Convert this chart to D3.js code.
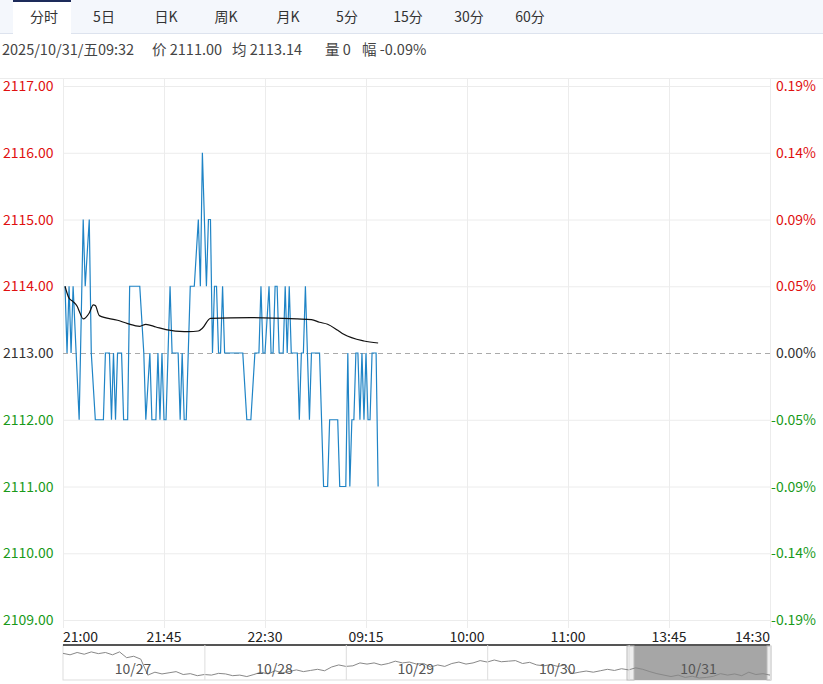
<!DOCTYPE html>
<html><head><meta charset="utf-8">
<script src="https://cdn.jsdelivr.net/npm/d3@7"></script>
<style>
body{margin:0;background:#fff;font-family:"Microsoft YaHei","Noto Sans CJK SC",Arial,sans-serif;}
</style></head>
<body><div id="chart"></div>
<script>
const tabs = ["分时", "5日", "日K", "周K", "月K", "5分", "15分", "30分", "60分"];
const timeLabels = ["21:00", "21:45", "22:30", "09:15", "10:00", "11:00", "13:45", "14:30"];
const priceTicks = [2117, 2116, 2115, 2114, 2113, 2112, 2111, 2110, 2109];
const pctLabels = ["0.19%", "0.14%", "0.09%", "0.05%", "0.00%", "-0.05%", "-0.09%", "-0.14%", "-0.19%"];
const preClose = 2113;
const infoParts = ["2025/10/31/五09:32", "价 2111.00", "均 2113.14", "量 0", "幅 -0.09%"];
// minute index / price
const priceIdx = [1,2,3,4,5,8,10,11,13,14,16,20,21,23,24,25,26,27,29,30,32,33,38,40,41,43,44,46,47,48,49,50,51,53,54,57,58,59,60,61,63,65,67,68,69,71,72,73,74,75,76,77,78,79,80,89,91,93,95,97,98,99,100,102,103,104,105,106,107,109,110,111,112,113,116,117,118,119,120,121,122,123,127,129,131,132,136,137,140,141,142,143,144,145,146,147,148,149,150,151,152,153,155,156];
const priceVal = [2114,2113,2114,2113,2114,2112,2115,2114,2115,2113,2112,2112,2113,2113,2112,2113,2112,2113,2113,2112,2112,2114,2114,2113,2112,2113,2112,2112,2113,2112,2113,2112,2112,2114,2113,2113,2112,2113,2112,2112,2114,2114,2115,2114,2116,2114,2115,2115,2113,2114,2114,2113,2113,2114,2113,2113,2112,2112,2113,2113,2114,2113,2113,2114,2113,2113,2114,2114,2113,2113,2114,2113,2114,2113,2113,2112,2113,2113,2114,2113,2112,2113,2113,2111,2111,2112,2112,2111,2111,2113,2111,2112,2112,2113,2113,2112,2113,2112,2113,2112,2112,2113,2113,2111];
const avgIdx = [1,3,5,7,8,10,13,15,16,18,27,32,38,41,46,51,60,62,67,69,73,93,116,123,127,131,136,139,149,156];
const avgVal = [2114,2113.82,2113.77,2113.7,2113.63,2113.51,2113.6,2113.72,2113.71,2113.56,2113.49,2113.44,2113.4,2113.43,2113.39,2113.35,2113.32,2113.32,2113.33,2113.37,2113.52,2113.53,2113.51,2113.5,2113.46,2113.43,2113.34,2113.28,2113.18,2113.15];
// overview navigator: relative level per step (0 top, 1 bottom)
const navVal = [0.15,0.2,0.12,0.18,0.1,0.16,0.12,0.2,0.1,0.3,0.25,0.35,0.9,0.8,0.86,0.82,0.78,0.88,0.85,0.92,0.88,0.9,0.84,0.86,0.92,0.9,0.95,0.88,0.8,0.86,0.75,0.82,0.78,0.72,0.78,0.74,0.7,0.75,0.62,0.55,0.6,0.58,0.48,0.52,0.48,0.55,0.5,0.42,0.48,0.45,0.52,0.5,0.62,0.55,0.6,0.5,0.45,0.52,0.48,0.4,0.45,0.38,0.44,0.42,0.4,0.5,0.46,0.55,0.58,0.54,0.6,0.55,0.85,0.8,0.76,0.8,0.75,0.7,0.74,0.68,0.72,0.65,0.7,0.78,0.85,0.9,0.95,0.9,0.98,0.94,1,0.98,0.94,0.85,0.9,0.86,0.92,0.8,0.88,0.85,0.9];
const navDays = ["10/27", "10/28", "10/29", "10/30", "10/31"];

const W = 823, H = 684;
const L = 63, R = 770, T = 86, B = 620;
const svg = d3.select("#chart").append("svg").attr("width", W).attr("height", H);

// tab bar
svg.append("rect").attr("width", W).attr("height", 33).attr("fill", "#f4f7fc");
svg.append("line").attr("x1", 0).attr("x2", W).attr("y1", 33.5).attr("y2", 33.5).attr("stroke", "#dde3ee");
svg.append("rect").attr("x", 13).attr("y", 0).attr("width", 58).attr("height", 34).attr("fill", "#fff");
svg.append("rect").attr("x", 13).attr("y", 0).attr("width", 58).attr("height", 2).attr("fill", "#1d2b5a");
const tabX = [44, 104, 166, 226, 288, 347, 408, 469, 530];
svg.selectAll(".tab").data(tabs).enter().append("text")
  .attr("x", (d, i) => tabX[i]).attr("y", 22).attr("text-anchor", "middle")
  .attr("font-size", 14).attr("fill", "#333").text(d => d);

const infoX = [2, 152, 232, 325, 362];
svg.selectAll(".info").data(infoParts).enter().append("text")
  .attr("x", (d, i) => infoX[i]).attr("y", 55).attr("font-size", 14.5).attr("fill", "#444")
  .text(d => d);

const x = d3.scaleLinear().domain([0, 350]).range([L, R]);
const y = d3.scaleLinear().domain([2109, 2117]).range([B, T]);
const col = v => v > preClose ? "#e01010" : v < preClose ? "#1a9a1a" : "#333";

// grid
svg.selectAll(".vg").data(timeLabels).enter().append("line")
  .attr("x1", (d, i) => x(i * 50) + 0.5).attr("x2", (d, i) => x(i * 50) + 0.5)
  .attr("y1", 78).attr("y2", B + 8).attr("stroke", "#ececec");
svg.selectAll(".hg").data(priceTicks).enter().append("line")
  .attr("x1", L).attr("x2", R).attr("y1", d => y(d) + 0.5).attr("y2", d => y(d) + 0.5)
  .attr("stroke", d => d === preClose ? "#aaa" : "#ececec")
  .attr("stroke-dasharray", d => d === preClose ? "5,4" : null);
svg.append("line").attr("x1", 0).attr("x2", W).attr("y1", 78.5).attr("y2", 78.5).attr("stroke", "#ececec");

svg.selectAll(".yl").data(priceTicks).enter().append("text")
  .attr("x", 3).attr("y", d => y(d) + 5).attr("font-size", 14).attr("fill", col)
  .text(d => d.toFixed(2));
svg.selectAll(".yr").data(pctLabels).enter().append("text")
  .attr("x", 816).attr("y", (d, i) => y(priceTicks[i]) + 5).attr("text-anchor", "end")
  .attr("font-size", 14).attr("fill", (d, i) => col(priceTicks[i])).text(d => d);

// lines
const line = d3.line().x(d => x(d[0])).y(d => y(d[1]));
svg.append("path").datum(priceIdx.map((d, i) => [d, priceVal[i]]))
  .attr("d", line).attr("fill", "none").attr("stroke", "#1f84c6").attr("stroke-width", 1.2);
svg.append("path").datum(avgIdx.map((d, i) => [d, avgVal[i]]))
  .attr("d", d3.line().x(d => x(d[0])).y(d => y(d[1])).curve(d3.curveMonotoneX))
  .attr("fill", "none").attr("stroke", "#111").attr("stroke-width", 1.2);

// time labels
svg.selectAll(".tl").data(timeLabels).enter().append("text")
  .attr("x", (d, i) => x(i * 50)).attr("y", 642)
  .attr("text-anchor", (d, i) => i === 0 ? "start" : i === timeLabels.length - 1 ? "end" : "middle")
  .attr("font-size", 14).attr("fill", "#222").text(d => d);

// navigator
const nT = 645, nB = 680;
svg.append("rect").attr("x", L).attr("y", nT).attr("width", R - L).attr("height", nB - nT)
  .attr("fill", "#fff").attr("stroke", "#ddd");
svg.append("line").attr("x1", L).attr("x2", R).attr("y1", nT).attr("y2", nT).attr("stroke", "#555").attr("stroke-width", 2);
const nx = d3.scaleLinear().domain([0, navVal.length - 1]).range([L, R]);
const ny = d3.scaleLinear().domain([0, 1]).range([nT + 4, nB - 2]);
svg.append("rect").attr("x", 634).attr("y", nT + 1).attr("width", R - 634).attr("height", nB - nT - 1).attr("fill", "#a6a6a6");
svg.append("rect").attr("x", 627).attr("y", nT + 1).attr("width", 7).attr("height", nB - nT - 1).attr("fill", "#eee").attr("stroke", "#bbb");
svg.append("rect").attr("x", R - 3).attr("y", nT + 1).attr("width", 4).attr("height", nB - nT - 1).attr("fill", "#eee").attr("stroke", "#bbb");
svg.append("path").datum(navVal).attr("d", d3.line().x((d, i) => nx(i)).y(d => ny(d)))
  .attr("fill", "none").attr("stroke", "#888").attr("stroke-width", 1);
const dayX = d3.scaleLinear().domain([0, 5]).range([L, R]);
svg.selectAll(".nd").data(navDays).enter().append("line")
  .attr("x1", (d, i) => dayX(i + 1) + 0.5).attr("x2", (d, i) => dayX(i + 1) + 0.5)
  .attr("y1", nT).attr("y2", nB).attr("stroke", "#ddd");
svg.selectAll(".nl").data(navDays).enter().append("text")
  .attr("x", (d, i) => dayX(i) + 70).attr("y", 674).attr("text-anchor", "middle")
  .attr("font-size", 14).attr("fill", "#555").text(d => d);
</script></body></html>
